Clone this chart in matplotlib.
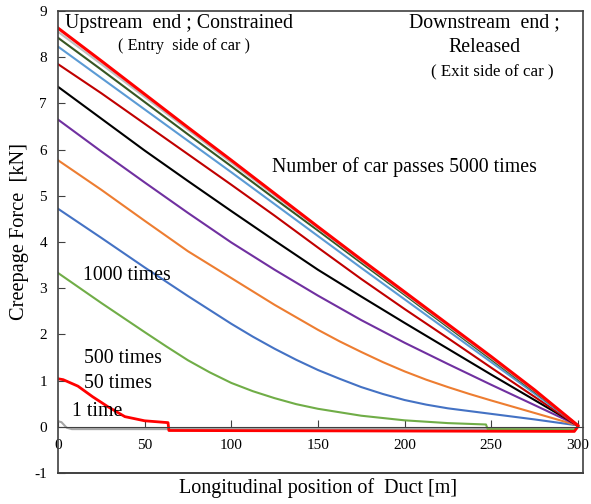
import matplotlib
matplotlib.use('Agg')
import matplotlib.pyplot as plt

plt.rcParams['font.family'] = ['Liberation Serif', 'DejaVu Serif']
plt.rcParams['axes.unicode_minus'] = False

# common grid for the near-straight curves
x = [0, 25, 50, 75, 100, 125, 150, 175, 200, 225, 250, 275, 300]

n5000 = [8.63, 7.92, 7.20, 6.48, 5.77, 5.05, 4.33, 3.62, 2.92, 2.22, 1.52, 0.80, 0.03]
n_gray = [8.55, 7.85, 7.14, 6.43, 5.72, 5.01, 4.30, 3.59, 2.89, 2.19, 1.49, 0.78, 0.03]
n_dgreen = [8.42, 7.73, 7.03, 6.33, 5.64, 4.94, 4.25, 3.55, 2.86, 2.16, 1.46, 0.76, 0.03]
n_lblue = [8.23, 7.55, 6.87, 6.19, 5.51, 4.82, 4.13, 3.44, 2.76, 2.08, 1.40, 0.72, 0.03]
n_crimson = [7.85, 7.22, 6.56, 5.90, 5.24, 4.57, 3.88, 3.20, 2.55, 1.92, 1.28, 0.65, 0.02]
n_black = [7.36, 6.67, 5.98, 5.32, 4.67, 4.03, 3.40, 2.82, 2.25, 1.69, 1.13, 0.58, 0.03]
n_purple = [6.65, 5.96, 5.29, 4.63, 3.99, 3.40, 2.84, 2.31, 1.82, 1.36, 0.91, 0.47, 0.03]

# curved ones, read more densely
x_orange = [0, 25, 50, 75, 100, 125, 150, 162.5, 175, 187.5, 200, 212.5, 225, 237.5, 250, 275, 300]
y_orange = [5.77, 5.13, 4.46, 3.80, 3.22, 2.64, 2.10, 1.85, 1.62, 1.40, 1.20, 1.02, 0.86, 0.71, 0.57, 0.30, 0.03]

x_blue = [0, 25, 50, 75, 100, 112.5, 125, 137.5, 150, 162.5, 175, 187.5, 200, 212.5, 225, 250, 275, 300]
y_blue = [4.72, 4.09, 3.45, 2.83, 2.23, 1.95, 1.69, 1.45, 1.23, 1.04, 0.86, 0.71, 0.58, 0.48, 0.40, 0.28, 0.16, 0.03]

x_green = [0, 25, 50, 62.5, 75, 87.5, 100, 112.5, 125, 137.5, 150, 175, 200, 225, 247, 248, 298, 300]
y_green = [3.33, 2.68, 2.05, 1.74, 1.44, 1.18, 0.95, 0.77, 0.62, 0.49, 0.39, 0.24, 0.14, 0.08, 0.05, -0.05, -0.06, 0.0]

x_50 = [0, 3, 11.5, 20, 29, 38.6, 50, 63.5, 64, 298, 300]
y_50 = [1.04, 1.02, 0.88, 0.65, 0.43, 0.22, 0.13, 0.09, -0.08, -0.10, 0.0]

x_1 = [0, 2, 5, 8, 298, 300]
y_1 = [0.12, 0.10, -0.02, -0.05, -0.05, 0.0]

xticks = [0, 50, 100, 150, 200, 250, 300]
yticks = [-1, 0, 1, 2, 3, 4, 5, 6, 7, 8, 9]

fig = plt.figure(figsize=(5.91, 5.04), dpi=100)
ax = fig.add_axes([58 / 591, 1 - 473 / 504, 525 / 591, 462 / 504])

ax.plot(x_1, y_1, color='#A6A6A6', lw=1.5)
ax.plot(x_green, y_green, color='#70AD47', lw=1.5)
ax.plot(x_blue, y_blue, color='#4472C4', lw=1.5)
ax.plot(x_orange, y_orange, color='#ED7D31', lw=1.5)
ax.plot(x, n_purple, color='#7030A0', lw=1.5)
ax.plot(x, n_black, color='black', lw=1.5)
ax.plot(x, n_crimson, color='#C00000', lw=1.5)
ax.plot(x, n_lblue, color='#5B9BD5', lw=1.5)
ax.plot(x, n_dgreen, color='#375623', lw=1.5)
ax.plot(x, n_gray, color='#BFBFBF', lw=1.5)
ax.plot(x, n5000, color='#FF0000', lw=2.2)
ax.plot(x_50, y_50, color='#FF0000', lw=2.0)

ax.set_xlim(0, 303)
ax.set_ylim(-1, 9)

ax.spines['bottom'].set_position(('data', 0))
ax.spines['bottom'].set_color('#404040')
for s in ['left', 'top', 'right']:
    ax.spines[s].set_color('#404040')
    ax.spines[s].set_linewidth(1.2)
ax.axhline(-1, color='#404040', lw=1.4, clip_on=False)

ax.set_xticks(xticks)
ax.set_yticks(yticks)
ax.tick_params(axis='x', direction='in', length=5, pad=9, labelsize=11, color='#404040')
ax.tick_params(axis='y', direction='in', length=5, pad=8, labelsize=11, color='#404040')

ax.text(4, 8.74, 'Upstream  end ; Constrained', fontsize=14.3, ha='left', va='center')
ax.text(72.7, 8.24, '( Entry  side of car )', fontsize=11.8, ha='center', va='center')
ax.text(246, 8.74, 'Downstream  end ;', fontsize=14.3, ha='center', va='center')
ax.text(246.4, 8.21, 'Released', fontsize=14.3, ha='center', va='center')
ax.text(250.4, 7.70, '( Exit side of car )', fontsize=12.2, ha='center', va='center')
ax.text(199.7, 5.63, 'Number of car passes 5000 times', fontsize=14.3, ha='center', va='center')
ax.text(14.4, 3.28, '1000 times', fontsize=14.3, ha='left', va='center')
ax.text(15, 1.48, '500 times', fontsize=14.3, ha='left', va='center')
ax.text(15, 0.93, '50 times', fontsize=14.3, ha='left', va='center')
ax.text(8.1, 0.33, '1 time', fontsize=14.3, ha='left', va='center')

fig.text(20 / 591, 1 - 232 / 504, 'Creepage Force  [kN]', rotation=90, fontsize=14.7, ha='center', va='center')
fig.text(318 / 591, 1 - 488 / 504, 'Longitudinal position of  Duct [m]', fontsize=14.5, ha='center', va='center')

fig.savefig('out.png', dpi=100)
